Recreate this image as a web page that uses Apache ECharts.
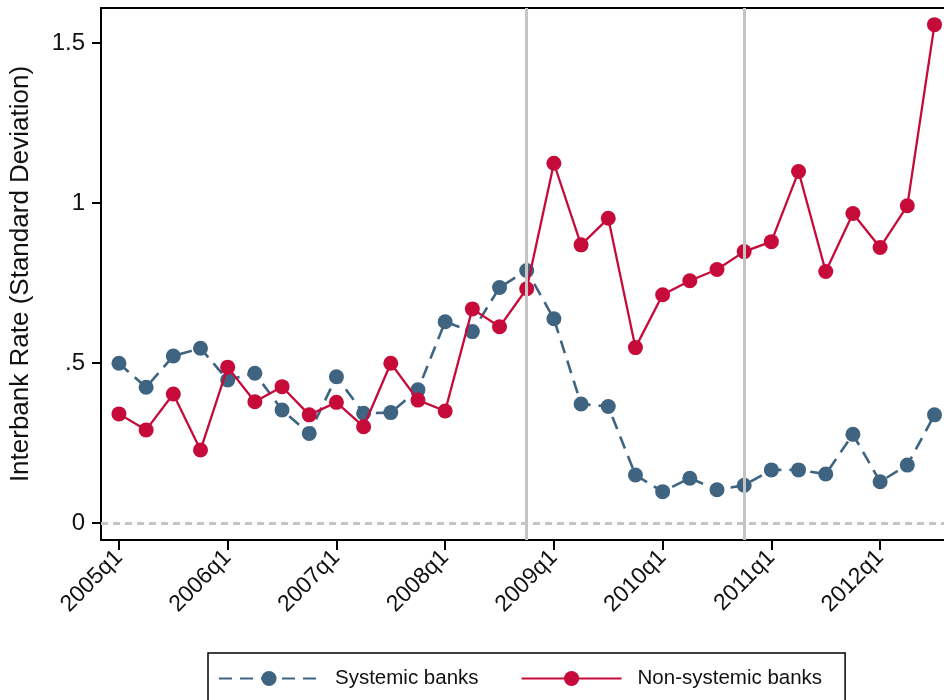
<!DOCTYPE html>
<html>
<head>
<meta charset="utf-8">
<script src="https://cdn.jsdelivr.net/npm/echarts@6/dist/echarts.min.js"></script>
<style>
  html, body { margin: 0; padding: 0; background: #fff; }
  #chart { width: 944px; height: 700px; }
</style>
</head>
<body>
<div id="chart"></div>
<script>
// Quarterly cross-sectional dispersion of interbank rates, 2005q1 to 2012q3
const quarters = [
  "2005q1","2005q2","2005q3","2005q4",
  "2006q1","2006q2","2006q3","2006q4",
  "2007q1","2007q2","2007q3","2007q4",
  "2008q1","2008q2","2008q3","2008q4",
  "2009q1","2009q2","2009q3","2009q4",
  "2010q1","2010q2","2010q3","2010q4",
  "2011q1","2011q2","2011q3","2011q4",
  "2012q1","2012q2","2012q3"
];
const systemic = [
  0.499, 0.424, 0.522, 0.546,
  0.447, 0.468, 0.353, 0.280,
  0.457, 0.343, 0.345, 0.416,
  0.629, 0.598, 0.736, 0.789,
  0.638, 0.372, 0.364, 0.150,
  0.098, 0.140, 0.104, 0.118,
  0.166, 0.166, 0.153, 0.277,
  0.129, 0.181, 0.338
];
const nonSystemic = [
  0.341, 0.291, 0.403, 0.228,
  0.487, 0.379, 0.426, 0.338,
  0.377, 0.301, 0.499, 0.384,
  0.350, 0.669, 0.613, 0.732,
  1.124, 0.869, 0.952, 0.548,
  0.713, 0.757, 0.792, 0.848,
  0.879, 1.098, 0.786, 0.967,
  0.861, 0.991, 1.557
];
// Labelled ticks: first quarter of each year
const tickQuarters = ["2005q1","2006q1","2007q1","2008q1","2009q1","2010q1","2011q1","2012q1"];
const yTicks = [0, 0.5, 1, 1.5];
// Event markers (2008q4 and 2010q4)
const eventQuarters = ["2008q4", "2010q4"];

const BLUE = '#3e6481';
const RED = '#c60b3a';
const GREY = '#c4c4c4';
const FONT = '"Liberation Sans", Arial, sans-serif';

const idx = q => quarters.indexOf(q);
const tickIdx = tickQuarters.map(idx);
const X_MIN = -0.66, X_MAX = 30.35;

const chart = echarts.init(document.getElementById('chart'), null, { renderer: 'canvas' });
chart.setOption({
  animation: false,
  backgroundColor: '#fff',
  textStyle: { fontFamily: FONT },
  grid: { left: 101, top: 8, right: 0, bottom: 160 },
  xAxis: [
    {
      type: 'value',
      min: X_MIN, max: X_MAX,
      splitLine: { show: false },
      axisLine: { show: true, onZero: false, lineStyle: { color: '#000', width: 2 } },
      axisTick: { show: true, length: 10, lineStyle: { color: '#000', width: 2 }, customValues: tickIdx },
      axisLabel: {
        customValues: tickIdx,
        rotate: 45, margin: 14,
        fontSize: 23, color: '#111', fontFamily: FONT,
        formatter: v => quarters[Math.round(v)] || ''
      }
    },
    {
      // top frame line of the plot region
      type: 'value',
      position: 'top',
      min: X_MIN, max: X_MAX,
      splitLine: { show: false },
      axisLine: { show: true, onZero: false, lineStyle: { color: '#000', width: 2 } },
      axisTick: { show: false },
      axisLabel: { show: false }
    }
  ],
  yAxis: {
    type: 'value',
    min: -0.053, max: 1.609,
    name: 'Interbank Rate (Standard Deviation)',
    nameLocation: 'middle',
    nameGap: 67,
    nameTextStyle: { fontSize: 26, color: '#111', fontFamily: FONT },
    splitLine: { show: false },
    axisLine: { show: true, onZero: false, lineStyle: { color: '#000', width: 2 } },
    axisTick: { show: true, length: 9, lineStyle: { color: '#000', width: 2 }, customValues: yTicks },
    axisLabel: {
      customValues: yTicks,
      margin: 16,
      fontSize: 24, color: '#111', fontFamily: FONT,
      formatter: v => String(v).replace(/^0\./, '.')
    }
  },
  legend: {
    left: 208, top: 653,
    orient: 'horizontal',
    borderColor: '#000', borderWidth: 1.5,
    padding: [15, 23, 20, 10],
    itemGap: 42,
    itemWidth: 100, itemHeight: 19,
    textStyle: { fontSize: 20.5, color: '#111', fontFamily: FONT, padding: [0, 0, 0, 11] },
    data: ['Systemic banks', 'Non-systemic banks']
  },
  series: [
    {
      // reference lines: zero baseline and event quarters
      type: 'line',
      data: [],
      silent: true,
      z: 1,
      markLine: {
        silent: true,
        symbol: 'none',
        label: { show: false },
        data: [
          { yAxis: 0, lineStyle: { color: GREY, width: 3, type: [7, 5] } },
          ...eventQuarters.map(q => ({ xAxis: idx(q), lineStyle: { color: GREY, width: 3, type: 'solid' } }))
        ]
      }
    },
    {
      name: 'Systemic banks',
      type: 'line',
      z: 3,
      data: systemic.map((v, i) => [i, v]),
      symbol: 'circle', symbolSize: 15,
      itemStyle: { color: BLUE },
      lineStyle: { color: BLUE, width: 2.6, type: [13, 8] }
    },
    {
      name: 'Non-systemic banks',
      type: 'line',
      z: 4,
      data: nonSystemic.map((v, i) => [i, v]),
      symbol: 'circle', symbolSize: 15,
      itemStyle: { color: RED },
      lineStyle: { color: RED, width: 2.3 }
    }
  ]
});
</script>
</body>
</html>
